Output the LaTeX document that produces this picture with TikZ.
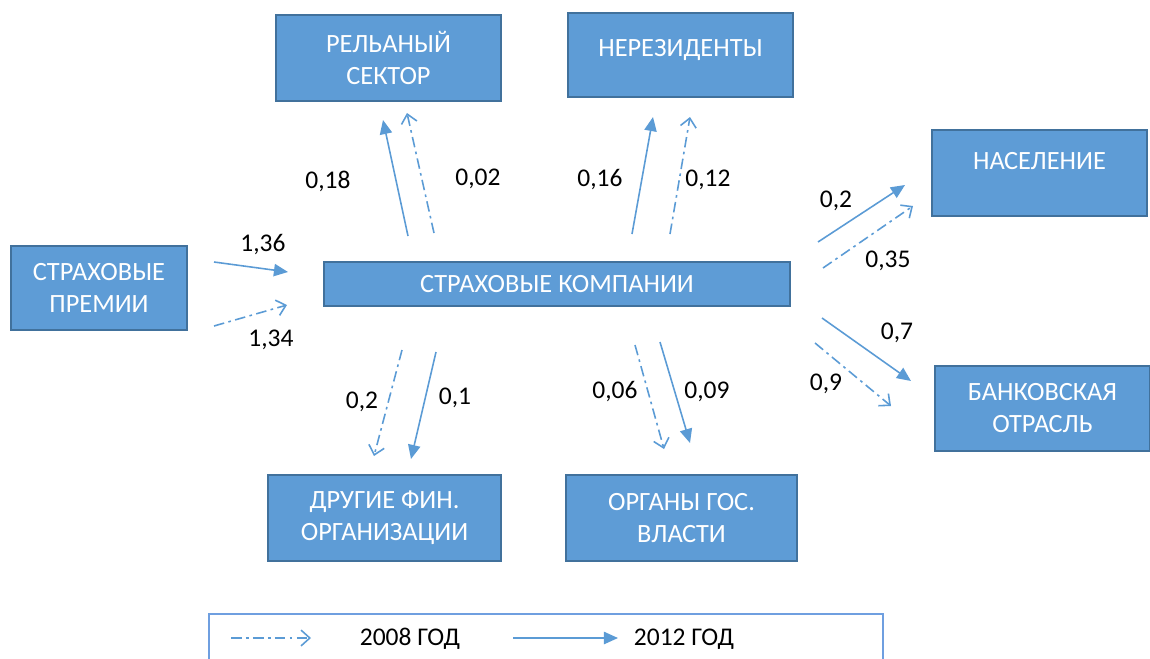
\documentclass[tikz,border=0pt]{standalone}
\usepackage{fontspec}
\setmainfont{Carlito}
\usetikzlibrary{arrows.meta}
\definecolor{boxfill}{HTML}{5E9CD6}
\definecolor{boxline}{HTML}{41719C}
\definecolor{arrowc}{HTML}{5B9BD5}
\definecolor{legline}{HTML}{6F9FE0}
\tikzset{
  x=0.02cm, y=-0.02cm,
  box/.style={draw=boxline, line width=0.8pt, fill=boxfill, text=white, align=center,
    font=\fontsize{15}{18.2}\selectfont, inner sep=0pt},
  lbl/.style={font=\fontsize{14.5}{16}\selectfont, text=black, inner sep=0pt},
  y12/.style={draw=arrowc, line width=0.9pt, -{Triangle[length=8pt,width=7pt]}},
  y08/.style={draw=arrowc, line width=0.9pt, dash pattern=on 6pt off 2.5pt on 1.5pt off 2.5pt,
    -{Straight Barb[length=5pt,width=9pt,line width=0.9pt]}},
}
\begin{document}
\begin{tikzpicture}
\useasboundingbox (0,0) rectangle (1150,659);
% boxes
\node[box, minimum width=4.5cm, minimum height=1.72cm] (rs) at (388.5,58) {РЕЛЬАНЫЙ\\СЕКТОР};
\node[box, minimum width=4.5cm, minimum height=1.68cm, text height=0.3cm, text depth=0.25cm] (nr) at (680.5,55) {НЕРЕЗИДЕНТЫ};
\node[box, minimum width=4.3cm, minimum height=1.72cm, text height=0.3cm, text depth=0.45cm] (ns) at (1039.5,173) {НАСЕЛЕНИЕ};
\node[box, minimum width=3.52cm, minimum height=1.68cm] (sp) at (99,288) {СТРАХОВЫЕ\\ПРЕМИИ};
\node[box, minimum width=9.32cm, minimum height=0.88cm] (sk) at (557,284) {СТРАХОВЫЕ КОМПАНИИ};
\node[box, minimum width=4.3cm, minimum height=1.7cm] (bo) at (1042.5,408.5) {БАНКОВСКАЯ\\ОТРАСЛЬ};
\node[box, minimum width=4.66cm, minimum height=1.72cm] (df) at (384.5,518) {ДРУГИЕ ФИН.\\ОРГАНИЗАЦИИ};
\node[box, minimum width=4.62cm, minimum height=1.72cm] (og) at (681.5,518) {ОРГАНЫ ГОС.\\ВЛАСТИ};
% legend box
\draw[legline, line width=0.8pt] (209,670) -- (209,614) -- (883,614) -- (883,670);
% arrow endpoints
\coordinate (a1s) at (214,262); \coordinate (a1e) at (288,272);
\coordinate (a2s) at (214,326); \coordinate (a2e) at (287,305);
\coordinate (b1s) at (408,236); \coordinate (b1e) at (383,120);
\coordinate (b2s) at (434,233); \coordinate (b2e) at (407,113);
\coordinate (c1s) at (632,234); \coordinate (c1e) at (653,117);
\coordinate (c2s) at (670,234); \coordinate (c2e) at (690,117);
\coordinate (d1s) at (818,242); \coordinate (d1e) at (905,185);
\coordinate (d2s) at (823,268); \coordinate (d2e) at (913,206);
\coordinate (e1s) at (822,318); \coordinate (e1e) at (911,381);
\coordinate (e2s) at (815,343); \coordinate (e2e) at (891,406);
\coordinate (f1s) at (402,350); \coordinate (f1e) at (374,456);
\coordinate (f2s) at (436,352); \coordinate (f2e) at (411,459);
\coordinate (g1s) at (635,345); \coordinate (g1e) at (664,449);
\coordinate (g2s) at (660,342); \coordinate (g2e) at (690,443);
\draw[y12] (a1s) -- (a1e);
\draw[y08] (a2s) -- (a2e);
\draw[y12] (b1s) -- (b1e);
\draw[y08] (b2s) -- (b2e);
\draw[y12] (c1s) -- (c1e);
\draw[y08] (c2s) -- (c2e);
\draw[y12] (d1s) -- (d1e);
\draw[y08] (d2s) -- (d2e);
\draw[y12] (e1s) -- (e1e);
\draw[y08] (e2s) -- (e2e);
\draw[y08] (f1s) -- (f1e);
\draw[y12] (f2s) -- (f2e);
\draw[y08] (g1s) -- (g1e);
\draw[y12] (g2s) -- (g2e);
% labels
\node[lbl] (l1) at (263,245) {1,36};
\node[lbl] (l2) at (271,340) {1,34};
\node[lbl] (l3) at (328,181) {0,18};
\node[lbl] (l4) at (478,179) {0,02};
\node[lbl] (l5) at (600,180) {0,16};
\node[lbl] (l6) at (708,180) {0,12};
\node[lbl] (l7) at (836,201) {0,2};
\node[lbl] (l8) at (888,261) {0,35};
\node[lbl] (l9) at (897,333) {0,7};
\node[lbl] (l10) at (826,384) {0,9};
\node[lbl] (l11) at (362,402) {0,2};
\node[lbl] (l12) at (455,398) {0,1};
\node[lbl] (l13) at (615,392) {0,06};
\node[lbl] (l14) at (707,392) {0,09};
% legend
\coordinate (k1s) at (231,638); \coordinate (k1e) at (311,638);
\coordinate (k2s) at (513,638); \coordinate (k2e) at (618,638);
\draw[y08] (k1s) -- (k1e);
\draw[y12] (k2s) -- (k2e);
\node[lbl] (t1) at (410,639) {2008 ГОД};
\node[lbl] (t2) at (684,639) {2012 ГОД};
\end{tikzpicture}
\end{document}
